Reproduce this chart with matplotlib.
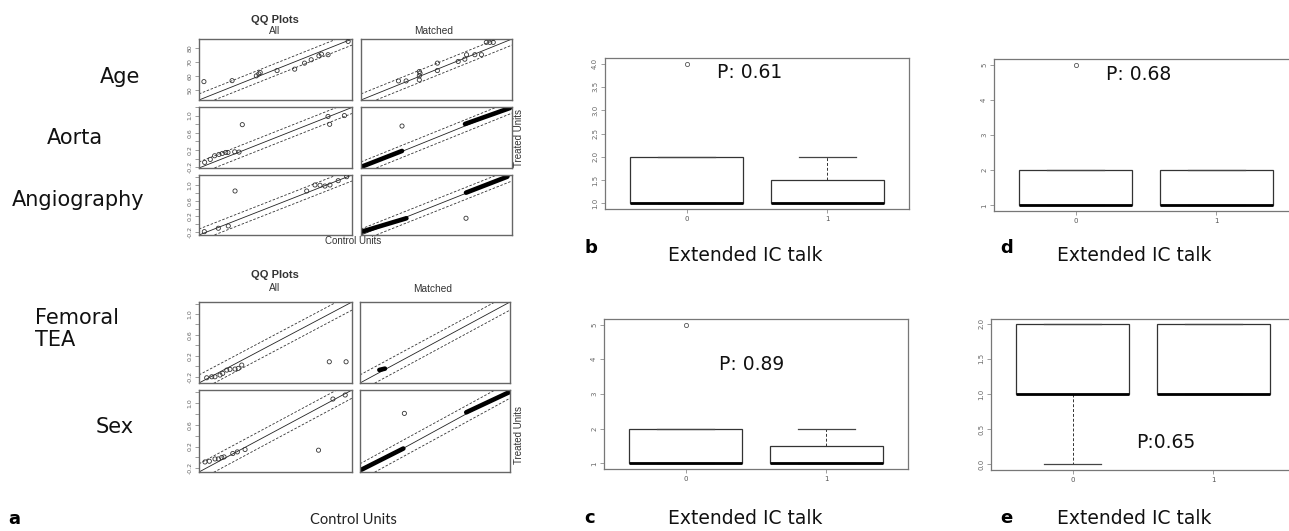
import matplotlib
matplotlib.use("Agg")
import matplotlib.pyplot as plt

W, H = 1289, 531

# ---------------- QQ plot data (control quantile, treated quantile) ----------------
qq_vars_top = ["Age", "Aorta", "Angiography"]
qq_vars_bottom = ["Femoral\nTEA", "Sex"]

age_range = [42.9, 86.4]
age_all_ctrl = [44.3, 52.3, 59.2, 59.9, 60.3, 65.1, 70.1, 72.9, 74.8, 77.0, 77.7, 79.6, 85.3]
age_all_trt = [56.0, 56.7, 60.1, 61.5, 62.5, 63.9, 64.9, 69.2, 71.6, 74.4, 75.6, 75.2, 84.7]
age_m_ctrl = [53.7, 55.9, 59.7, 59.7, 59.7, 59.9, 64.9, 64.9, 70.9, 72.8, 73.3, 75.7, 77.6, 79.0, 80.0, 81.0]
age_m_trt = [56.5, 56.5, 57.2, 60.1, 63.2, 62.0, 63.9, 69.2, 70.4, 72.0, 75.2, 75.2, 75.2, 84.0, 84.0, 84.0]
age_ticks = [50, 60, 70, 80]
age_ticklabels = ["50", "60", "70", "80"]

aorta_range = [-0.22, 1.19]
aorta_all_ctrl = [-0.168, -0.116, -0.076, -0.036, -0.005, 0.026, 0.047, 0.109, 0.149, 0.179, 0.969, 0.984, 1.12]
aorta_all_trt = [-0.089, -0.020, 0.065, 0.096, 0.119, 0.142, 0.142, 0.157, 0.150, 0.789, 0.98, 0.797, 1.0]
aorta_m_ctrl = [0.163]
aorta_m_trt = [0.75]
aorta_m_band_ctrl = [[-0.22, 0.163], [0.751, 1.171]]
aorta_m_band_trt = [[-0.196, 0.174], [0.797, 1.167]]

angio_range = [-0.27, 1.25]
angio_all_ctrl = [-0.217, -0.078, 0.021, 0.088, 0.80, 0.882, 0.932, 0.981, 1.031, 1.113, 1.197]
angio_all_trt = [-0.185, -0.099, -0.041, 0.845, 0.845, 0.997, 0.99, 0.97, 0.997, 1.106, 1.207]
angio_m_ctrl = [0.787]
angio_m_trt = [0.154]
angio_m_band_ctrl = [[-0.263, 0.187], [0.787, 1.203]]
angio_m_band_trt = [[-0.186, 0.154], [0.802, 1.207]]

fem_range = [-0.32, 1.23]
fem_all_ctrl = [-0.242, -0.191, -0.158, -0.107, -0.08, -0.039, -0.006, 0.045, 0.078, 0.113, 1.0, 1.17]
fem_all_trt = [-0.22, -0.201, -0.201, -0.168, -0.136, -0.073, -0.059, -0.053, -0.04, 0.023, 0.086, 0.086]
fem_m_ctrl = []
fem_m_trt = []
fem_m_band_ctrl = [[-0.12, -0.062]]
fem_m_band_trt = [[-0.07, -0.045]]

sex_range = [-0.268, 1.24]
sex_all_ctrl = [-0.209, -0.166, -0.110, -0.077, -0.044, -0.021, 0.065, 0.110, 0.186, 0.91, 1.052, 1.173]
sex_all_trt = [-0.083, -0.070, -0.028, -0.028, -0.002, 0.009, 0.072, 0.102, 0.146, 0.133, 1.074, 1.148]
sex_m_ctrl = [0.178]
sex_m_trt = [0.81]
sex_m_band_ctrl = [[-0.251, 0.168], [0.80, 1.243]]
sex_m_band_trt = [[-0.223, 0.164], [0.829, 1.209]]

bin_ticks = [-0.2, 0.0, 0.2, 0.4, 0.6, 0.8, 1.0, 1.2]
bin_ticklabels = ["-0.2", "", "0.2", "", "0.6", "", "1.0", ""]

# ---------------- Box plot data ----------------
groups = ["0", "1"]
b_q1, b_med, b_q3, b_lo, b_hi = [1, 1], [1, 1], [2, 1.5], [1, 1], [2, 2]
b_fliers = [[4], []]
c_q1, c_med, c_q3, c_lo, c_hi = [1, 1], [1, 1], [2, 1.5], [1, 1], [2, 2]
c_fliers = [[5], []]
d_q1, d_med, d_q3, d_lo, d_hi = [1, 1], [1, 1], [2, 2], [1, 1], [2, 2]
d_fliers = [[5], []]
e_q1, e_med, e_q3, e_lo, e_hi = [1, 1], [1, 1], [2, 2], [0, 1], [2, 2]
e_fliers = [[], []]
p_values = ["P: 0.61", "P: 0.89", "P: 0.68", "P:0.65"]

fig = plt.figure(figsize=(W / 100, H / 100), dpi=100)
fig.patch.set_facecolor("white")


def rect(x0, y0, x1, y1):
    return [x0 / W, 1 - y1 / H, (x1 - x0) / W, (y1 - y0) / H]


def ft(x, y, s, **kw):
    fig.text(x / W, 1 - y / H, s, **kw)


def qq_panel(box, rng, xs, ys, bands_x=None, bands_y=None, ticks=None, ticklabels=None):
    ax = fig.add_axes(rect(*box))
    lo, hi = rng
    r = hi - lo
    ax.set_xlim(lo, hi)
    ax.set_ylim(lo, hi)
    ax.plot([lo, hi], [lo, hi], color="#222", lw=0.6)
    ax.plot([lo, hi], [lo + 0.1 * r, hi + 0.1 * r], color="#333", lw=0.6, ls=(0, (3, 2)))
    ax.plot([lo, hi], [lo - 0.1 * r, hi - 0.1 * r], color="#333", lw=0.6, ls=(0, (3, 2)))
    if bands_x:
        for bx, by in zip(bands_x, bands_y):
            ax.plot(bx, by, color="black", lw=3.3, solid_capstyle="round")
    if len(xs):
        ax.scatter(xs, ys, s=9, facecolors="none", edgecolors="#333", linewidths=0.6, zorder=3)
    ax.set_xticks([])
    if ticks is not None:
        ax.set_yticks(ticks)
        ax.set_yticklabels(ticklabels, rotation=90, fontsize=4.5, color="#666", va="center")
        ax.tick_params(axis="y", length=3, width=0.5, color="#777", pad=1.5)
    else:
        ax.set_yticks([])
    for s in ax.spines.values():
        s.set_color("#666")
        s.set_linewidth(1.0)
    return ax


ttl = dict(family="Liberation Sans", color="#333")

# top QQ group
ft(275, 20, "QQ Plots", fontsize=8, fontweight="bold", ha="center", va="center", **ttl)
ft(275, 31, "All", fontsize=7.3, ha="center", va="center", **ttl)
ft(434, 31, "Matched", fontsize=7.3, ha="center", va="center", **ttl)
qq_panel((199, 39, 352, 100), age_range, age_all_ctrl, age_all_trt, ticks=age_ticks, ticklabels=age_ticklabels)
qq_panel((361, 39, 512, 100), age_range, age_m_ctrl, age_m_trt)
qq_panel((199, 107, 352, 168), aorta_range, aorta_all_ctrl, aorta_all_trt, ticks=bin_ticks, ticklabels=bin_ticklabels)
qq_panel((361, 107, 512, 168), aorta_range, aorta_m_ctrl, aorta_m_trt, aorta_m_band_ctrl, aorta_m_band_trt)
qq_panel((199, 175, 352, 235), angio_range, angio_all_ctrl, angio_all_trt, ticks=bin_ticks, ticklabels=bin_ticklabels)
qq_panel((361, 175, 512, 235), angio_range, angio_m_ctrl, angio_m_trt, angio_m_band_ctrl, angio_m_band_trt)
ft(353, 241, "Control Units", fontsize=7, ha="center", va="center", **ttl)
ft(519, 138, "Treated Units", fontsize=7, rotation=90, ha="center", va="center", **ttl)

# bottom QQ group
ft(275, 275, "QQ Plots", fontsize=8, fontweight="bold", ha="center", va="center", **ttl)
ft(275, 288, "All", fontsize=7.3, ha="center", va="center", **ttl)
ft(433, 289, "Matched", fontsize=7.3, ha="center", va="center", **ttl)
qq_panel((199, 302, 352, 383), fem_range, fem_all_ctrl, fem_all_trt, ticks=bin_ticks, ticklabels=bin_ticklabels)
qq_panel((360, 302, 510, 383), fem_range, fem_m_ctrl, fem_m_trt, fem_m_band_ctrl, fem_m_band_trt)
qq_panel((199, 390, 352, 472), sex_range, sex_all_ctrl, sex_all_trt, ticks=bin_ticks, ticklabels=bin_ticklabels)
qq_panel((360, 390, 510, 472), sex_range, sex_m_ctrl, sex_m_trt, sex_m_band_ctrl, sex_m_band_trt)
ft(519, 435, "Treated Units", fontsize=7, rotation=90, ha="center", va="center", **ttl)
ft(353, 520, "Control Units", fontsize=10.5, ha="center", va="center", family="Lato", color="#222")

# variable labels
lab = dict(fontsize=15, va="center", family="DejaVu Sans", color="#111")
ft(100, 77, qq_vars_top[0], ha="left", **lab)
ft(47, 138, qq_vars_top[1], ha="left", **lab)
ft(12, 200, qq_vars_top[2], ha="left", **lab)
ft(35, 329, qq_vars_bottom[0], ha="left", linespacing=1.15, **lab)
ft(96, 427, qq_vars_bottom[1], ha="left", **lab)
ft(8, 519, "a", fontsize=13, fontweight="bold", ha="left", va="center")


# ---------------- box plots ----------------
def box_panel(box, q1, med, q3, lo, hi, fliers, ylim, yticks, yticklabels):
    ax = fig.add_axes(rect(*box))
    stats = []
    for i in range(len(groups)):
        stats.append(dict(q1=q1[i], med=med[i], q3=q3[i], whislo=lo[i], whishi=hi[i], fliers=fliers[i]))
    ax.bxp(stats, positions=[1, 2], widths=0.8, capwidths=0.4, patch_artist=True,
           boxprops=dict(facecolor="white", edgecolor="#333", linewidth=0.9),
           medianprops=dict(color="black", linewidth=2.0),
           whiskerprops=dict(color="#333", linewidth=0.7, linestyle=(0, (3, 2))),
           capprops=dict(color="#444", linewidth=0.9),
           flierprops=dict(marker="o", markerfacecolor="none", markeredgecolor="#555",
                           markersize=3, markeredgewidth=0.6))
    ax.set_xlim(0.42, 2.58)
    ax.set_ylim(*ylim)
    ax.set_xticks([1, 2])
    ax.set_xticklabels(groups, fontsize=5, color="#555")
    ax.set_yticks(yticks)
    ax.set_yticklabels(yticklabels, rotation=90, fontsize=5, color="#666", va="center")
    ax.tick_params(length=3, width=0.5, color="#777", pad=2)
    for s in ax.spines.values():
        s.set_color("#777")
        s.set_linewidth(0.9)
    return ax


box_panel((605, 58, 909, 209), b_q1, b_med, b_q3, b_lo, b_hi, b_fliers, (0.88, 4.12),
          [1.0, 1.5, 2.0, 2.5, 3.0, 3.5, 4.0], ["1.0", "1.5", "2.0", "2.5", "3.0", "3.5", "4.0"])
box_panel((604, 319, 908, 469), c_q1, c_med, c_q3, c_lo, c_hi, c_fliers, (0.84, 5.16),
          [1, 2, 3, 4, 5], ["1", "2", "3", "4", "5"])
box_panel((994, 59, 1298, 211), d_q1, d_med, d_q3, d_lo, d_hi, d_fliers, (0.84, 5.16),
          [1, 2, 3, 4, 5], ["1", "2", "3", "4", "5"])
box_panel((991, 319, 1295, 470), e_q1, e_med, e_q3, e_lo, e_hi, e_fliers, (-0.086, 2.07),
          [0.0, 0.5, 1.0, 1.5, 2.0], ["0.0", "0.5", "1.0", "1.5", "2.0"])

ptxt = dict(fontsize=13.5, ha="center", va="center", color="#111")
ft(750, 73, p_values[0], **ptxt)
ft(752, 365, p_values[1], **ptxt)
ft(1139, 75, p_values[2], **ptxt)
ft(1166, 443, p_values[3], **ptxt)

xl = dict(fontsize=13.5, ha="center", va="center", color="#111")
lb = dict(fontsize=13, fontweight="bold", ha="left", va="center")
ft(584, 248, "b", **lb)
ft(745, 256, "Extended IC talk", **xl)
ft(584, 518, "c", **lb)
ft(745, 519, "Extended IC talk", **xl)
ft(1000, 248, "d", **lb)
ft(1134, 256, "Extended IC talk", **xl)
ft(1000, 518, "e", **lb)
ft(1134, 519, "Extended IC talk", **xl)

fig.savefig("out.png", dpi=100, facecolor="white")
